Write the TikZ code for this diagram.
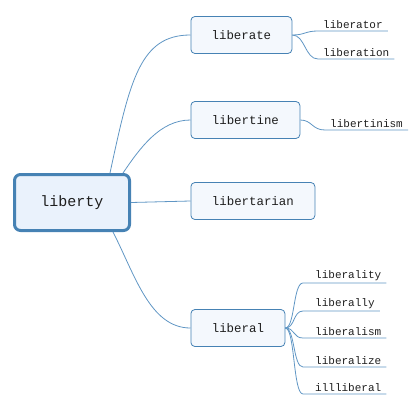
\documentclass[tikz,border=0pt]{standalone}
\usepackage{fontspec}
\setmainfont{Liberation Mono}
\usetikzlibrary{positioning}
\definecolor{mmblue}{RGB}{70,130,180}
\definecolor{mmline}{RGB}{96,150,196}
\definecolor{mmroot}{RGB}{234,242,252}
\definecolor{mmfill}{RGB}{244,248,253}
\definecolor{mmtext}{RGB}{30,30,30}
\tikzstyle{rootnode} = [rectangle, rounded corners=6pt, draw=mmblue, fill=mmroot, line width=3pt, minimum width=115pt, minimum height=56pt, text=mmtext, font=\fontsize{15}{18}\selectfont]
\tikzstyle{topic} = [rectangle, rounded corners=4pt, draw=mmblue, fill=mmfill, line width=0.8pt, minimum height=37pt, anchor=west, text=mmtext, font=\fontsize{12.4}{15}\selectfont]
\tikzstyle{leaf} = [inner xsep=5pt, inner ysep=2pt, anchor=south west, text=mmtext, font=\fontsize{11}{13}\selectfont]
\tikzstyle{branch} = [draw=mmline, line width=0.8pt]

\begin{document}
\begin{tikzpicture}[x=1pt, y=-1pt]
\useasboundingbox (0,0) rectangle (419,404);

% Central node
\node[rootnode] (liberty) at (72,202.5) {liberty};

% Main topics
\node[topic, minimum width=101pt] (liberate) at (190.5,35) {liberate};
\node[topic, minimum width=109pt] (libertine) at (190.5,120) {libertine};
\node[topic, minimum width=124pt] (libertarian) at (190.5,201) {libertarian};
\node[topic, minimum width=94pt] (liberal) at (190.5,328) {liberal};

% Leaf words
\node[leaf] (liberator) at (318,31) {liberator};
\node[leaf] (liberation) at (318,59) {liberation};
\node[leaf] (libertinism) at (325,130) {libertinism};
\node[leaf] (liberality) at (310,283) {liberality};
\node[leaf] (liberally) at (310,311) {liberally};
\node[leaf] (liberalism) at (310,338) {liberalism};
\node[leaf] (liberalize) at (310,367) {liberalize};
\node[leaf] (illliberal) at (310,394) {illliberal};

% Connections to center
\draw[branch] ([xshift=-21pt]liberty.north east) .. controls (130,80) and (140,35) .. (liberate.west);
\draw[branch] ([xshift=-8pt]liberty.north east) .. controls (140,148) and (160,120) .. (libertine.west);
\draw[branch] (liberty.east) -- (libertarian.west);
\draw[branch] ([xshift=-18pt]liberty.south east) .. controls (135,275) and (150,328) .. (liberal.west);

% Connections to leaves
\draw[branch] (liberate.east) .. controls (305,35) and (305,31) .. (liberator.south west) -- (liberator.south east);
\draw[branch] (liberate.east) .. controls (305,35) and (305,59) .. (liberation.south west) -- (liberation.south east);
\draw[branch] (libertine.east) .. controls (312,120) and (312,130) .. (libertinism.south west) -- (libertinism.south east);
\draw[branch] (liberal.east) .. controls (295,328) and (293,283) .. ([xshift=-7pt]liberality.south west) -- (liberality.south east);
\draw[branch] (liberal.east) .. controls (295,328) and (293,311) .. ([xshift=-7pt]liberally.south west) -- (liberally.south east);
\draw[branch] (liberal.east) .. controls (295,328) and (293,338) .. ([xshift=-7pt]liberalism.south west) -- (liberalism.south east);
\draw[branch] (liberal.east) .. controls (295,328) and (293,367) .. ([xshift=-7pt]liberalize.south west) -- (liberalize.south east);
\draw[branch] (liberal.east) .. controls (295,328) and (293,394) .. ([xshift=-7pt]illliberal.south west) -- (illliberal.south east);
\end{tikzpicture}
\end{document}
